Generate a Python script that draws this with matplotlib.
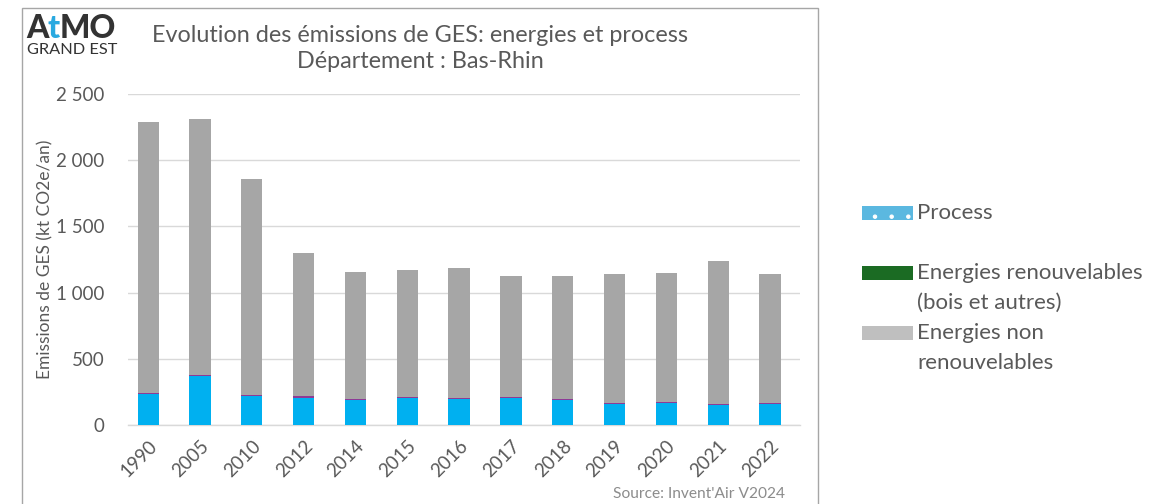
import matplotlib
matplotlib.use("Agg")
import matplotlib.pyplot as plt
from matplotlib.patches import Rectangle
from matplotlib.ticker import FuncFormatter
import numpy as np

plt.rcParams['font.family'] = ['Lato', 'DejaVu Sans']
plt.rcParams['hatch.color'] = 'white'
plt.rcParams['hatch.linewidth'] = 0.8

years = ["1990", "2005", "2010", "2012", "2014", "2015", "2016", "2017", "2018", "2019", "2020", "2021", "2022"]
process = [235, 372, 222, 206, 188, 203, 198, 203, 192, 162, 165, 148, 160]
renouvelables = [7, 8, 8, 10, 7, 7, 8, 6, 6, 7, 10, 12, 7]
totals = [2288, 2314, 1858, 1300, 1156, 1168, 1185, 1127, 1127, 1144, 1147, 1240, 1138]
non_renouvelables = [t - p - r for t, p, r in zip(totals, process, renouvelables)]

legend_labels = ["Process", "Energies renouvelables\n(bois et autres)", "Energies non\nrenouvelables"]
legend_colors = ['#5BB8E0', '#1B6B23', '#BFBFBF']

grey_txt = '#595959'
W, H = 1176, 504

fig = plt.figure(figsize=(11.76, 5.04), dpi=100)
ax = fig.add_axes([128/W, 1-425/H, (800-128)/W, (425-94)/H])

x = np.arange(len(years))
w = 0.41
ax.bar(x, process, w, color='#00B0F0', zorder=3)
ax.bar(x, renouvelables, w, bottom=process, color='#8E3A96', zorder=3)
bottom2 = [p + r for p, r in zip(process, renouvelables)]
ax.bar(x, non_renouvelables, w, bottom=bottom2, color='#A6A6A6', zorder=3)

ax.set_ylim(0, 2500)
ax.set_xlim(-0.39, 12.58)
ax.set_yticks([0, 500, 1000, 1500, 2000, 2500])
ax.yaxis.set_major_formatter(FuncFormatter(lambda v, p: f"{int(v):,}".replace(",", " ")))
ax.grid(axis='y', color='#D9D9D9', linewidth=1, zorder=0)
for s in ['top', 'right', 'left']:
    ax.spines[s].set_visible(False)
ax.spines['bottom'].set_color('#D9D9D9')
ax.spines['bottom'].set_linewidth(1)
ax.tick_params(axis='both', length=0, colors=grey_txt, labelsize=13.5)
ax.tick_params(axis='y', pad=17)
ax.set_xticks(x)
ax.set_xticklabels(years, rotation=45, ha='right', rotation_mode='anchor')
ax.tick_params(axis='x', pad=9)
ax.set_ylabel("Emissions de GES (kt CO2e/an)", color=grey_txt, fontsize=12.5)
ax.yaxis.set_label_coords((45-128)/672, 0.5)
ax.yaxis.label.set_va('center')

# Title
fig.text(420/W, 1-35/H, "Evolution des émissions de GES: energies et process", ha='center', va='center', fontsize=16.8, color=grey_txt)
fig.text(420/W, 1-62/H, "Département : Bas-Rhin", ha='center', va='center', fontsize=16.8, color=grey_txt)

# Logo
fig.text(26/W, 1-29/H, "A", ha='left', va='center', fontsize=23, fontweight='black', color='#333333')
fig.text(48/W, 1-29/H, "t", ha='left', va='center', fontsize=23, fontweight='black', color='#29A9E0')
fig.text(60/W, 1-29/H, "MO", ha='left', va='center', fontsize=23, fontweight='black', color='#333333')
fig.text(27/W, 1-50/H, "GRAND EST", ha='left', va='center', fontsize=11.8, color='#333333')

# Source
fig.text(785/W, 1-494/H, "Source: Invent'Air V2024", ha='right', va='center', fontsize=11.2, color='#8C8C8C')

# Border
fig.patches.append(Rectangle((22/W, -0.01), (818-22)/W, 1-8/H + 0.01, transform=fig.transFigure,
                             fill=False, edgecolor='#A6A6A6', linewidth=1))

# Legend (manual layout)
patch_y = [213, 273, 333]
for lab, col, yc in zip(legend_labels, legend_colors, patch_y):
    hatch = '.' if lab == "Process" else None
    fig.patches.append(Rectangle((862/W, 1-(yc+7)/H), 51/W, 14/H, transform=fig.transFigure,
                                 facecolor=col, edgecolor='white' if hatch else col, linewidth=0, hatch=hatch))
    fig.text(917/W, 1-(yc-10)/H, lab, ha='left', va='top', fontsize=16, color=grey_txt, linespacing=1.6)

fig.savefig("out.png", dpi=100)
